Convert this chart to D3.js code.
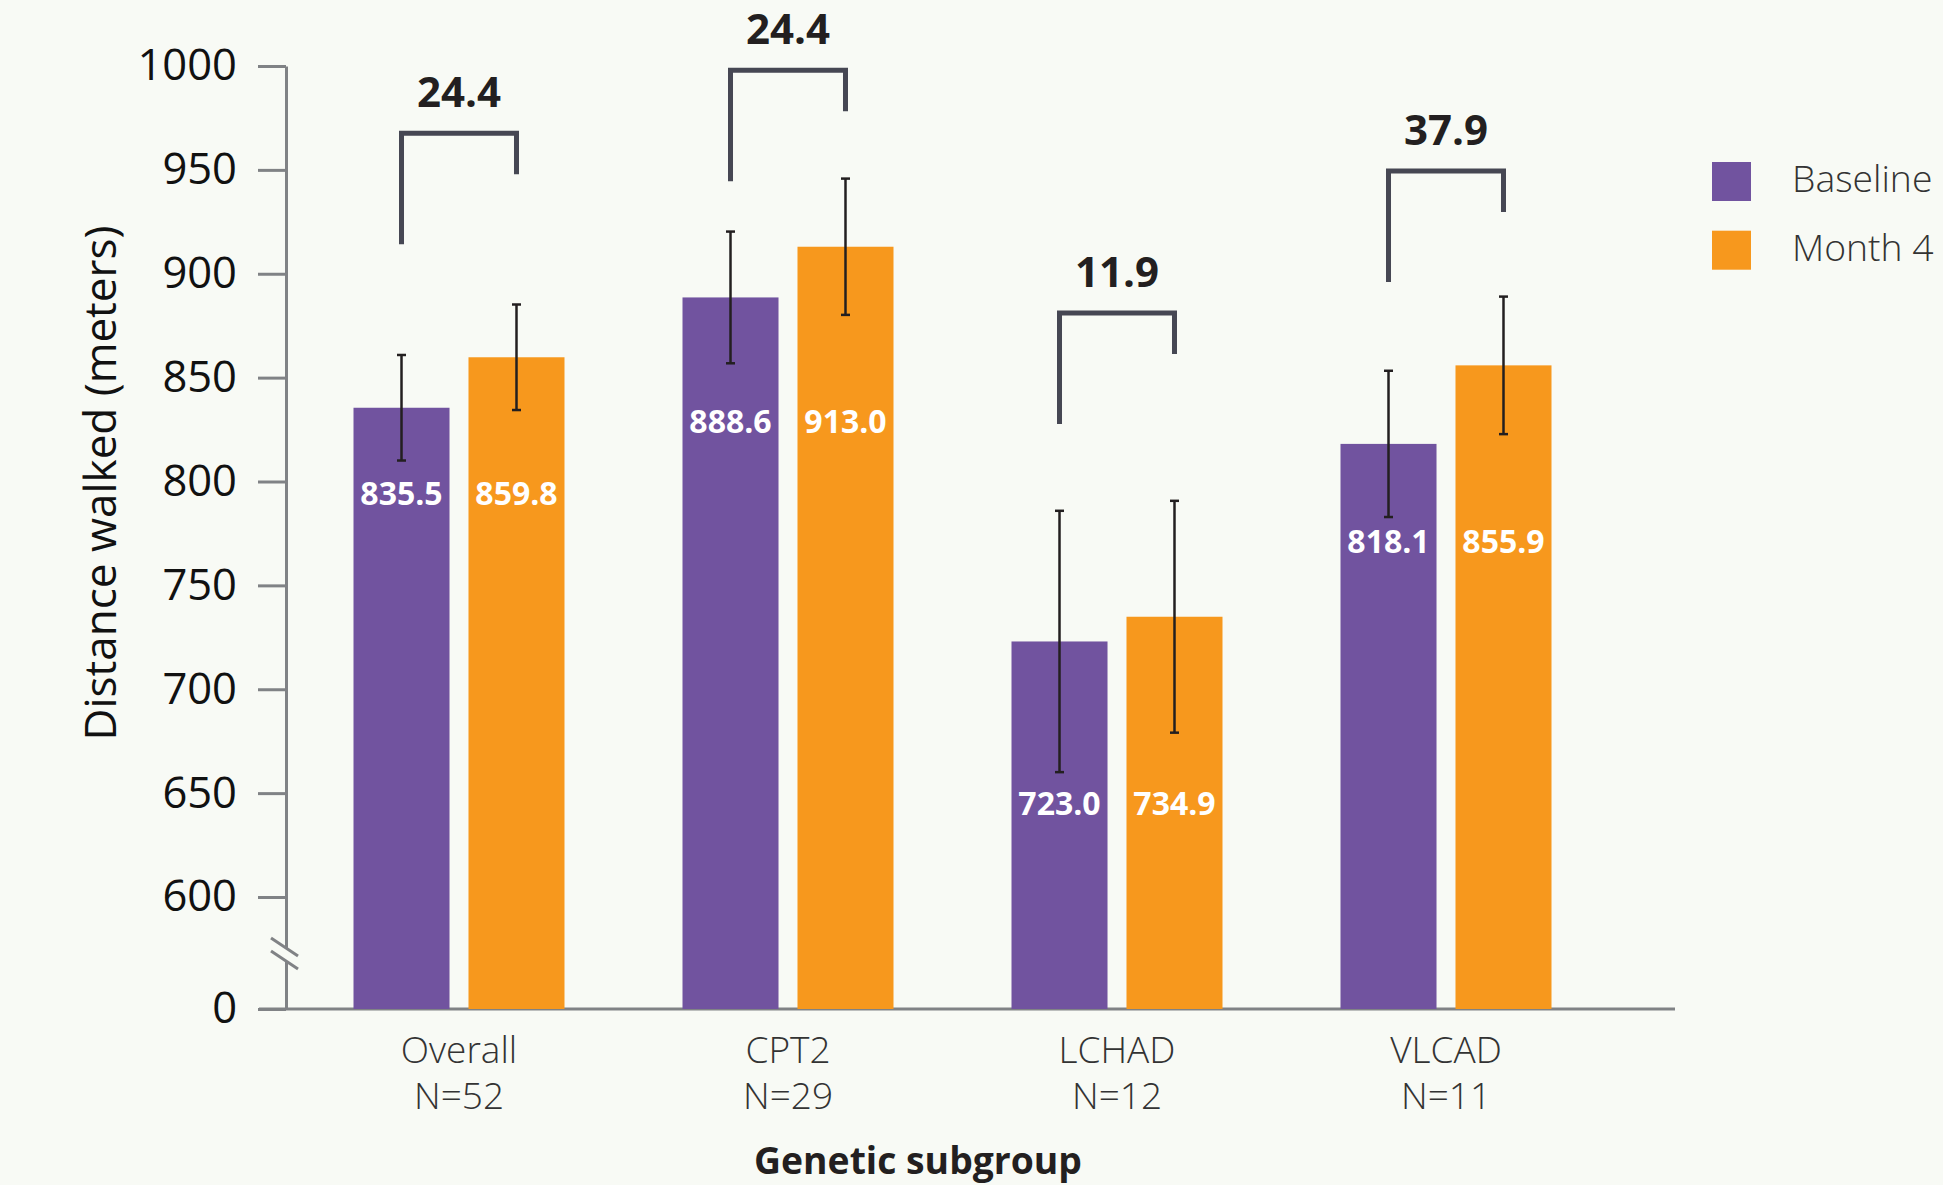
<!DOCTYPE html>
<html>
<head>
<meta charset="utf-8">
<script src="https://cdn.jsdelivr.net/npm/d3@7"></script>
<style>
  html, body { margin: 0; padding: 0; background: #f8faf5; }
  svg { display: block; font-family: "Open Sans", sans-serif; }
</style>
</head>
<body>
<svg id="chart" width="1943" height="1185"></svg>
<script>
// Six-minute walk distance by genetic subgroup, baseline vs month 4
const categories = ["Overall", "CPT2", "LCHAD", "VLCAD"];
const sampleSizes = ["N=52", "N=29", "N=12", "N=11"];
const seriesNames = ["Baseline", "Month 4"];
const baseline = [835.5, 888.6, 723.0, 818.1];
const month4 = [859.8, 913.0, 734.9, 855.9];
const baselineErr = [25.4, 31.7, 62.9, 35.2];
const month4Err = [25.4, 32.8, 55.8, 33.1];
const changes = [24.4, 24.4, 11.9, 37.9];
const bracketLevel = [967.6, 997.9, 881.1, 949.4];   // meters, top of each change bracket
const labelLevel = [788.7, 823.5, 639.3, 765.7];     // meters, baseline of in-bar value labels
const yTicks = [0, 600, 650, 700, 750, 800, 850, 900, 950, 1000];

const colors = { "Baseline": "#71539f", "Month 4": "#f7981d" };
const axisColor = "#808285";
const bg = "#f8faf5";

const svg = d3.select("#chart");
svg.append("rect").attr("width", 1943).attr("height", 1185).attr("fill", bg);

const axisX = 286;
// broken axis: 0..600 compressed into a short stub
const y = d3.scaleLinear().domain([0, 600, 1000]).range([1009, 897, 66]);

const x0 = d3.scaleBand().domain(categories).range([294.5, 1610.5]).paddingInner(0);
const pairWidth = 211;
const x1 = d3.scaleBand().domain(seriesNames).range([0, pairWidth]).paddingInner(0.165);
const barX = (cat, s) => x0(cat) + x0.bandwidth() / 2 - pairWidth / 2 + x1(s);
const barCx = (cat, s) => barX(cat, s) + x1.bandwidth() / 2;

const rows = categories.map((c, i) => ({
  cat: c, n: sampleSizes[i], change: changes[i], level: bracketLevel[i], labelAt: labelLevel[i],
  vals: [
    { s: "Baseline", v: baseline[i], e: baselineErr[i] },
    { s: "Month 4", v: month4[i], e: month4Err[i] }
  ]
}));

// Y axis
const yAxis = d3.axisLeft(y).tickValues(yTicks).tickFormat(d3.format("d"))
  .tickSize(28).tickSizeOuter(0).tickPadding(21);
const gy = svg.append("g").attr("transform", `translate(${axisX},0)`).call(yAxis);
gy.select(".domain").attr("stroke", axisColor).attr("stroke-width", 3);
gy.selectAll(".tick line").attr("stroke", axisColor).attr("stroke-width", 3);
gy.selectAll(".tick text").attr("fill", "#111").attr("font-size", 43.5)
  .attr("font-family", "'Open Sans', sans-serif");

// X axis baseline
svg.append("line")
  .attr("x1", 259).attr("x2", 1675)
  .attr("y1", y(0)).attr("y2", y(0))
  .attr("stroke", axisColor).attr("stroke-width", 3);

// axis break marks
const yBreak = (y(600) + y(0)) / 2;
const bx0 = axisX - 15, bx1 = axisX + 12, slope = 18 / 27, gap = 13;
svg.append("polygon")
  .attr("points", [
    [bx0, yBreak - 15], [bx1, yBreak - 15 + 27 * slope],
    [bx1, yBreak - 15 + 27 * slope + gap], [bx0, yBreak - 15 + gap]
  ].map(p => p.join(",")).join(" "))
  .attr("fill", bg);
[0, gap].forEach(off => {
  svg.append("line")
    .attr("x1", bx0).attr("y1", yBreak - 15 + off)
    .attr("x2", bx1).attr("y2", yBreak - 15 + 27 * slope + off)
    .attr("stroke", axisColor).attr("stroke-width", 3);
});

// Bars
const groups = svg.append("g").selectAll("g").data(rows).join("g");
groups.selectAll("rect").data(d => d.vals.map(v => ({ ...v, cat: d.cat })))
  .join("rect")
  .attr("x", d => barX(d.cat, d.s))
  .attr("width", x1.bandwidth())
  .attr("y", d => y(d.v))
  .attr("height", d => y(0) - y(d.v))
  .attr("fill", d => colors[d.s]);

// Error bars, value labels, change brackets, category labels
const capW = 9;
groups.each(function (d) {
  const g = d3.select(this);
  d.vals.forEach(v => {
    const cx = barCx(d.cat, v.s);
    const top = y(v.v + v.e), bot = y(v.v - v.e);
    g.append("line").attr("x1", cx).attr("x2", cx).attr("y1", top).attr("y2", bot)
      .attr("stroke", "#231f20").attr("stroke-width", 2.5);
    [top, bot].forEach(yy => g.append("line")
      .attr("x1", cx - capW / 2).attr("x2", cx + capW / 2)
      .attr("y1", yy).attr("y2", yy)
      .attr("stroke", "#231f20").attr("stroke-width", 2.5));

    g.append("text")
      .attr("x", cx)
      .attr("y", y(d.labelAt))
      .attr("text-anchor", "middle")
      .attr("fill", "#ffffff")
      .attr("font-size", 32)
      .attr("font-weight", 700)
      .text(d3.format(".1f")(v.v));
  });

  const lx = barCx(d.cat, "Baseline"), rx = barCx(d.cat, "Month 4");
  const ty = y(d.level);
  g.append("path")
    .attr("d", `M${lx},${ty + 111} V${ty} H${rx} V${ty + 41}`)
    .attr("fill", "none")
    .attr("stroke", "#464753")
    .attr("stroke-width", 5);
  g.append("text")
    .attr("x", (lx + rx) / 2)
    .attr("y", ty - 26)
    .attr("text-anchor", "middle")
    .attr("fill", "#231f20")
    .attr("font-size", 42)
    .attr("font-weight", 700)
    .text(d3.format(".1f")(d.change));

  const cx = x0(d.cat) + x0.bandwidth() / 2;
  g.append("text").attr("x", cx).attr("y", 1063).attr("text-anchor", "middle")
    .attr("fill", "#333").attr("font-size", 37).attr("font-weight", 300).text(d.cat);
  g.append("text").attr("x", cx).attr("y", 1109).attr("text-anchor", "middle")
    .attr("fill", "#333").attr("font-size", 37).attr("font-weight", 300).text(d.n);
});

// Axis titles
svg.append("text")
  .attr("transform", `translate(116,483) rotate(-90)`)
  .attr("text-anchor", "middle")
  .attr("fill", "#111")
  .attr("font-size", 44)
  .text("Distance walked (meters)");

svg.append("text")
  .attr("x", 918).attr("y", 1174)
  .attr("text-anchor", "middle")
  .attr("fill", "#231f20")
  .attr("font-size", 37.3)
  .attr("font-weight", 700)
  .text("Genetic subgroup");

// Legend
const legend = svg.append("g").selectAll("g").data(seriesNames).join("g")
  .attr("transform", (d, i) => `translate(1712,${162 + i * 68.7})`);
legend.append("rect").attr("width", 39).attr("height", 39).attr("fill", d => colors[d]);
legend.append("text").attr("x", 80).attr("y", 30)
  .attr("fill", "#333").attr("font-size", 37.3).attr("font-weight", 300).text(d => d);
</script>
</body>
</html>
